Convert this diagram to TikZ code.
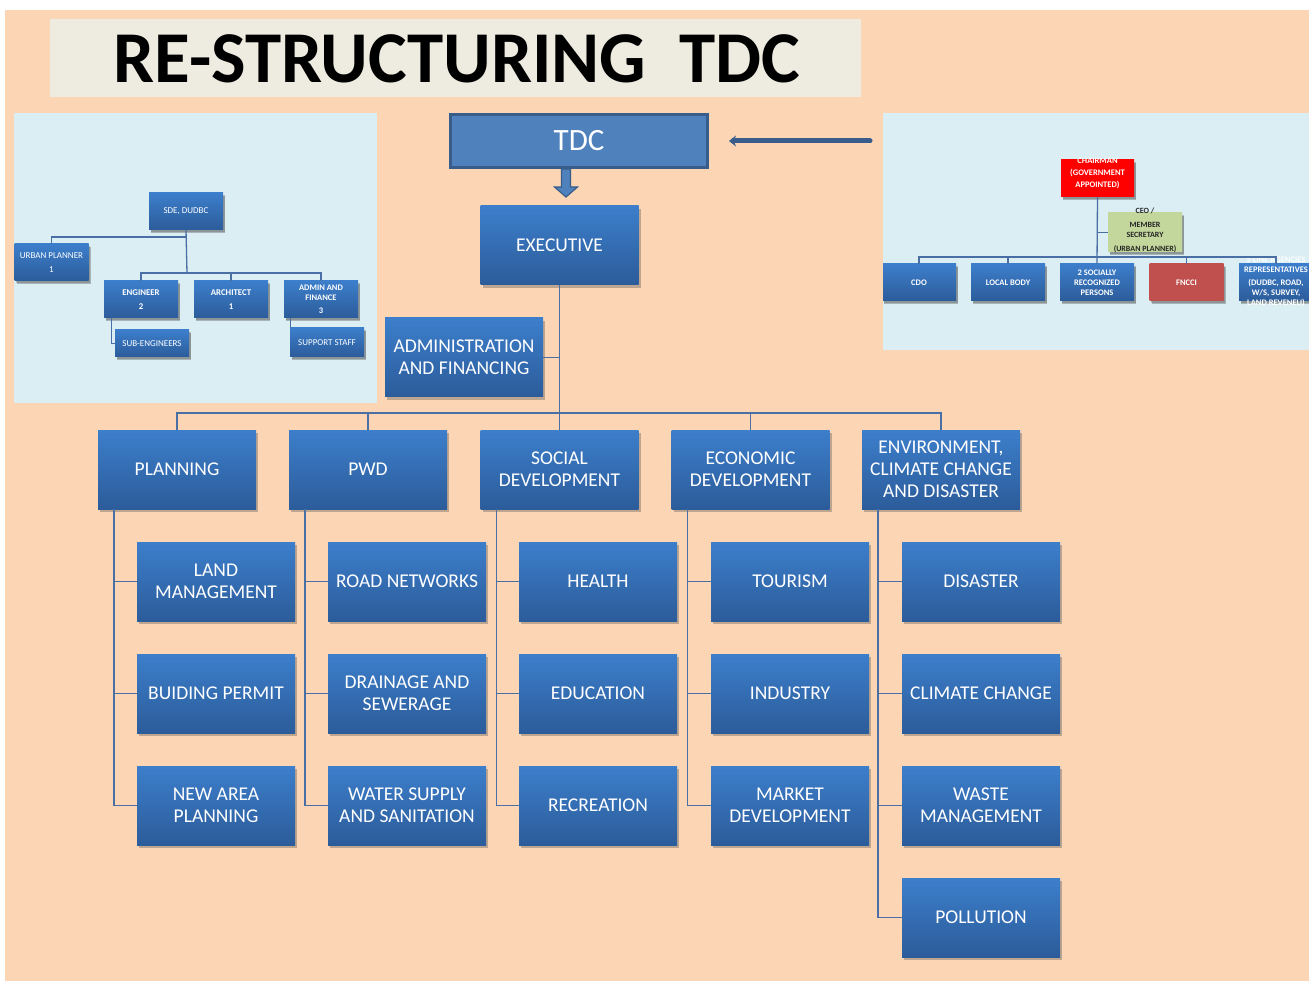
\documentclass[tikz,border=0pt]{standalone}
\usepackage{fontspec}
\setmainfont{Carlito}
\usetikzlibrary{shadows,arrows.meta}
\definecolor{peach}{HTML}{FCD5B4}
\definecolor{titlebg}{HTML}{EEECE1}
\definecolor{insetbg}{HTML}{DAEEF3}
\definecolor{boxtop}{HTML}{3C7ECB}
\definecolor{boxbot}{HTML}{2C5C9A}
\definecolor{connc}{HTML}{4A6FA5}
\definecolor{tdcfill}{HTML}{4F81BD}
\definecolor{tdcdraw}{HTML}{385D8A}
\definecolor{ceogreen}{HTML}{C3D69B}
\definecolor{fnccired}{HTML}{C0504D}
\begin{document}
\begin{tikzpicture}[x=1pt,y=-1pt,
  bluebox/.style={inner sep=1pt, align=center, text=white, top color=boxtop, bottom color=boxbot, draw=none,
    drop shadow={shadow xshift=2pt, shadow yshift=-3pt, opacity=0.35, fill=black!70}},
  mbox/.style={bluebox, minimum width=158pt, minimum height=79pt, font=\fontsize{19.5}{22}\selectfont},
  sbox/.style={bluebox, minimum width=74pt, minimum height=37pt, font=\fontsize{9}{14}\selectfont,
    drop shadow={shadow xshift=1.5pt, shadow yshift=-2pt, opacity=0.3, fill=black!70}},
  rbox/.style={sbox, font=\bfseries\fontsize{8.5}{10}\selectfont},
  rtext/.style={inner sep=0, align=center, text=white, font=\bfseries\fontsize{8.5}{10}\selectfont},
  conn/.style={draw=connc, line width=1.6pt},
  sconn/.style={draw=connc, line width=1.3pt},
]
\useasboundingbox (0,0) rectangle (1309,981);
\fill[white] (0,0) rectangle (1309,981);
\fill[peach] (5,10) rectangle (1309,981);

% title
\fill[titlebg] (50,19) rectangle (861,97);
\node[anchor=base, font=\bfseries\fontsize{73}{80}\selectfont, inner sep=0] (title) at (457,83) {RE-STRUCTURING\ \ TDC};

% ---------------- left inset
\fill[insetbg] (14,113) rectangle (377,403);
\node[sbox] (sde) at (186,211.5) {SDE, DUDBC};
\node[sbox] (urban) at (51.5,262.5) {URBAN PLANNER\\1};
\node[sbox, font=\bfseries\fontsize{8.8}{14}\selectfont] (eng) at (141,299.5) {ENGINEER\\2};
\node[sbox, font=\bfseries\fontsize{8.8}{14}\selectfont] (arch) at (231,299.5) {ARCHITECT\\1};
\node[sbox, font=\bfseries\fontsize{8.5}{10}\selectfont] (admf) at (321,299.5) {ADMIN AND\\FINANCE\\[3pt]3};
\node[sbox, minimum height=27pt] (subeng) at (152,343.5) {SUB-ENGINEERS};
\node[sbox, minimum height=29pt] (supp) at (327,342.5) {SUPPORT STAFF};
\coordinate (la) at (187,237);
\coordinate (lb) at (187,273);
\draw[sconn] (sde.south) -- (lb);
\draw[sconn] (urban.north) |- (la);
\draw[sconn] (eng.north) |- (lb) -| (admf.north);
\draw[sconn] (arch.north) -- (arch.north |- lb);
\draw[sconn] ([xshift=8pt]eng.south west) |- (subeng.west);
\draw[sconn] ([xshift=7pt]admf.south west) -- ([xshift=7pt]admf.south west |- supp.north);

% ---------------- right inset
\fill[insetbg] (883,113) rectangle (1309,350);
\begin{scope}
\clip (883,113) rectangle (1309,350);
\node[sbox, top color=red, bottom color=red, minimum width=73pt, minimum height=37pt] (chair) at (1097.5,178.5) {};
\node[rtext, font=\bfseries\fontsize{8.5}{12}\selectfont] (chairt) at (1097.5,173.5) {CHAIRMAN\\(GOVERNMENT\\APPOINTED)};
\node[sbox, top color=ceogreen, bottom color=ceogreen, minimum height=39pt] (ceo) at (1145,232.5) {};
\node[rtext, text=black!85, font=\bfseries\fontsize{8}{10}\selectfont] (ceot) at (1145,230.5) {CEO /\\[4pt]MEMBER\\SECRETARY\\[4pt](URBAN PLANNER)};
\node[rbox] (cdo) at (919,282.5) {CDO};
\node[rbox] (lbody) at (1008,282.5) {LOCAL BODY};
\node[rbox] (socp) at (1097,282.5) {2 SOCIALLY\\RECOGNIZED\\PERSONS};
\node[rbox, top color=fnccired, bottom color=fnccired] (fncci) at (1186.5,282.5) {FNCCI};
\node[sbox] (line) at (1276,282.5) {};
\node[rtext] (linet) at (1276,282) {5 LINE AGENCIES\\REPRESENTATIVES\\[3pt](DUDBC, ROAD,\\W/S, SURVEY,\\LAND REVENEU)};
\coordinate (rb) at (1097,257);
\draw[sconn] (chair.south) -- (socp.north);
\draw[sconn] (chair.south |- ceo.west) -- (ceo.west);
\draw[sconn] (cdo.north) |- (rb) -| (line.north);
\draw[sconn] (lbody.north) -- (lbody.north |- rb);
\draw[sconn] (fncci.north) -- (fncci.north |- rb);
\end{scope}

% ---------------- TDC
\node[minimum width=257pt, minimum height=53pt, fill=tdcfill, draw=tdcdraw, line width=3pt,
  text=white, font=\fontsize{31}{34}\selectfont] (tdc) at (579,141) {TDC};
\coordinate (arrs) at (870,141);
\draw[draw=tdcdraw, line width=5pt, line cap=round, -{Stealth[length=7pt,width=11pt]}] (arrs) -- ([xshift=20pt]tdc.east);
\coordinate (da) at (566,169);
\draw[fill=tdcfill, draw=tdcdraw, line width=1.2pt, line join=miter]
  ([xshift=-4.5pt]da) -- ++(0,18) -- ++(-7,0) -- (566,197) -- ++(11.5,-10) -- ++(-7,0) -- ([xshift=4.5pt]da) -- cycle;

% ---------------- main chart
\node[mbox] (exec) at (559.5,245.5) {EXECUTIVE};
\node[mbox] (admin) at (464,357.5) {ADMINISTRATION\\AND FINANCING};
\node[mbox] (plan) at (177,469.5) {PLANNING};
\node[mbox] (pwd) at (368,469.5) {PWD};
\node[mbox] (soc) at (559.5,469.5) {SOCIAL\\DEVELOPMENT};
\node[mbox] (eco) at (750.5,469.5) {ECONOMIC\\DEVELOPMENT};
\node[mbox] (env) at (941,469.5) {ENVIRONMENT,\\CLIMATE CHANGE\\AND DISASTER};

\node[mbox] (p1) at (216,581.5) {LAND\\MANAGEMENT};
\node[mbox] (p2) at (216,693.5) {BUIDING PERMIT};
\node[mbox] (p3) at (216,805.5) {NEW AREA\\PLANNING};
\node[mbox] (w1) at (407,581.5) {ROAD NETWORKS};
\node[mbox] (w2) at (407,693.5) {DRAINAGE AND\\SEWERAGE};
\node[mbox] (w3) at (407,805.5) {WATER SUPPLY\\AND SANITATION};
\node[mbox] (s1) at (598,581.5) {HEALTH};
\node[mbox] (s2) at (598,693.5) {EDUCATION};
\node[mbox] (s3) at (598,805.5) {RECREATION};
\node[mbox] (e1) at (790,581.5) {TOURISM};
\node[mbox] (e2) at (790,693.5) {INDUSTRY};
\node[mbox] (e3) at (790,805.5) {MARKET\\DEVELOPMENT};
\node[mbox] (v1) at (981,581.5) {DISASTER};
\node[mbox] (v2) at (981,693.5) {CLIMATE CHANGE};
\node[mbox] (v3) at (981,805.5) {WASTE\\MANAGEMENT};
\node[mbox] (v4) at (981,917.5) {POLLUTION};

\coordinate (bus) at (559,413);
\draw[conn] (exec.south) -- (exec.south |- soc.north);
\draw[conn] (admin.east) -- (admin.east -| exec.south);
\draw[conn] (plan.north) |- (bus) -| (env.north);
\draw[conn] (pwd.north) -- (pwd.north |- bus);
\draw[conn] (eco.north) -- (eco.north |- bus);
\foreach \pnode/\kids in {plan/{p1,p2,p3}, pwd/{w1,w2,w3}, soc/{s1,s2,s3}, eco/{e1,e2,e3}, env/{v1,v2,v3,v4}}{
  \foreach \k in \kids {
    \draw[conn] ([xshift=16pt]\pnode.south west) |- (\k.west);
  }
}
\end{tikzpicture}
\end{document}
